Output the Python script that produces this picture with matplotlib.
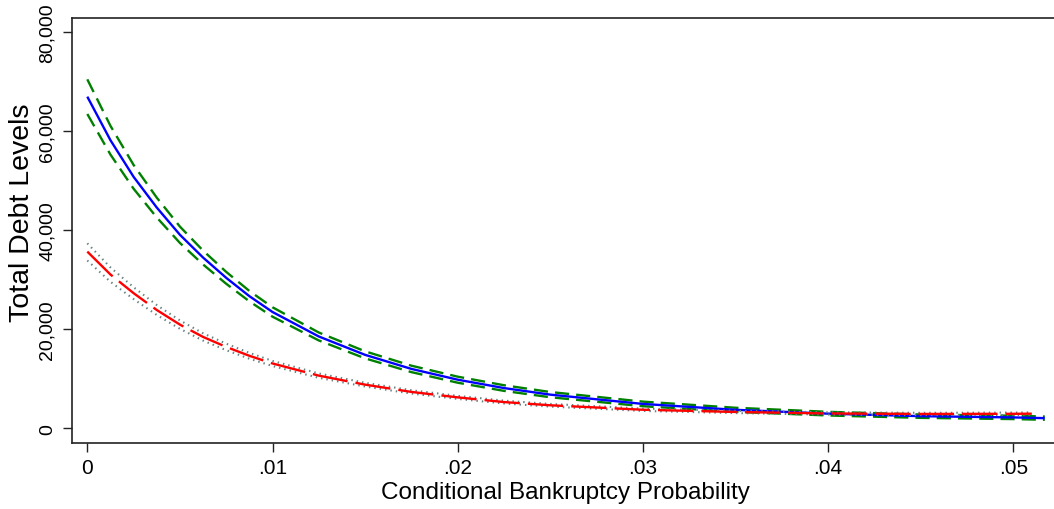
import matplotlib
matplotlib.use("Agg")
import matplotlib.pyplot as plt
from matplotlib.ticker import FuncFormatter

plt.rcParams['font.family'] = ['Liberation Sans', 'DejaVu Sans']

# Blue series (solid) with green dashed confidence bands
x_blue = [0, .00125, .0025, .00375, .005, .00625, .0075, .00875, .01, .0125,
          .015, .0175, .02, .0225, .025, .03, .035, .04, .045, .05, .0517]
blue = [67000, 58200, 50800, 44600, 39100, 34500, 30400, 26700, 23500, 18550,
        14840, 12000, 9820, 8130, 6800, 4925, 3735, 2960, 2450, 2200, 2050]
blue_hi = [70500, 61100, 53200, 46600, 40750, 35900, 31600, 27750, 24450,
           19350, 15550, 12650, 10430, 8700, 7330, 5390, 4150, 3330, 2790,
           2540, 2380]
blue_lo = [63500, 55300, 48400, 42600, 37450, 33100, 29200, 25650, 22550,
           17750, 14130, 11350, 9210, 7560, 6270, 4460, 3320, 2590, 2110,
           1860, 1720]

# Red series (long dash) with gray dotted confidence bands
x_red = [0, .00125, .0025, .00375, .005, .00625, .0075, .00875, .01, .0125,
         .015, .0175, .02, .0225, .025, .03, .035, .04, .045, .05, .051]
red = [35700, 31070, 27300, 23900, 20950, 18460, 16440, 14650, 13100, 10640,
       8820, 7350, 6250, 5300, 4650, 3750, 3300, 3000, 2900, 2930, 2950]
red_hi = [37370, 32500, 28500, 24900, 21800, 19200, 17100, 15240, 13620,
          11080, 9200, 7690, 6560, 5590, 4920, 3990, 3530, 3230, 3130, 3180,
          3210]
red_lo = [33900, 29600, 26100, 22900, 20100, 17720, 15780, 14060, 12580,
          10200, 8440, 7010, 5940, 5010, 4380, 3510, 3070, 2770, 2670, 2680,
          2690]

x_ticks = [0, .01, .02, .03, .04, .05]
x_tick_labels = ['0', '.01', '.02', '.03', '.04', '.05']
y_ticks = [0, 20000, 40000, 60000, 80000]

W, H = 1054, 510
fig = plt.figure(figsize=(W / 100, H / 100), dpi=100)
ax_w = (W - 72.3) / W + 0.01
ax = fig.add_axes([72.3 / W, 1 - 444.3 / H, ax_w, (444.3 - 19) / H])

green = '#008000'
gray = '#688282'
ax.plot(x_blue, blue_hi, color=green, lw=1.7, dashes=(6.0, 3.0))
ax.plot(x_blue, blue_lo, color=green, lw=1.7, dashes=(6.0, 3.0))
ax.plot(x_blue, blue, color='#0000ff', lw=1.7, solid_capstyle='butt')
ax.plot(x_red, red_hi, color=gray, lw=1.5, dashes=(0.7, 1.9))
ax.plot(x_red, red_lo, color=gray, lw=1.5, dashes=(0.7, 1.9))
ax.plot(x_red, red, color='#ff0000', lw=1.7, dashes=(15, 3.4))

px_per_unit = 18520.0
ax.set_xlim(-0.00081, -0.00081 + ax_w * W / px_per_unit)
ax.set_ylim(-3030, 82890)
ax.set_xticks(x_ticks)
ax.set_xticklabels(x_tick_labels)
ax.set_yticks(y_ticks)
ax.yaxis.set_major_formatter(FuncFormatter(lambda v, p: f'{int(v):,}'))
for lab in ax.get_yticklabels():
    lab.set_rotation(90)
    lab.set_va('center')
ax.tick_params(axis='both', direction='out', length=6.3, width=1.0,
               color='#222222')
ax.tick_params(axis='x', labelsize=15, pad=4.3)
ax.tick_params(axis='y', labelsize=14, pad=5.6)
for side in ['left', 'bottom', 'top']:
    ax.spines[side].set_linewidth(1.2)
    ax.spines[side].set_color('#222222')
ax.spines['right'].set_visible(False)

ax.set_xlabel('Conditional Bankruptcy Probability', fontsize=17.5, va='center')
ax.xaxis.set_label_coords((565 - 72.3) / (ax_w * W), (444.3 - 493.5) / 425.3)
ax.set_ylabel('Total Debt Levels', fontsize=20.5, va='center')
ax.yaxis.set_label_coords((21.7 - 72.3) / (ax_w * W), (444.3 - 212.5) / 425.3)

fig.savefig('out.png', dpi=100)
